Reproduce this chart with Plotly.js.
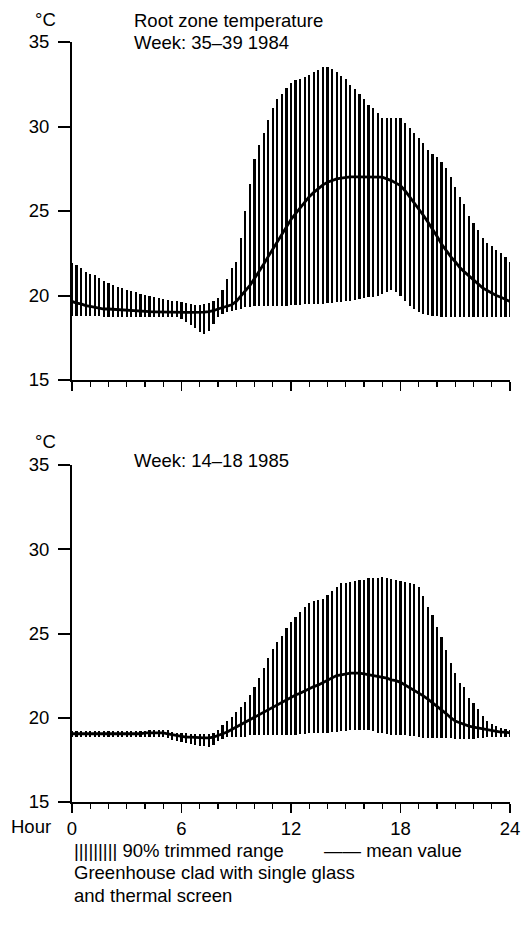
<!DOCTYPE html>
<html>
<head>
<meta charset="utf-8">
<script src="https://cdn.plot.ly/plotly-3.0.1.min.js"></script>
<style>html,body{margin:0;padding:0;background:#fff;}#chart{width:531px;height:932px;}</style>
</head>
<body>
<div id="chart"></div>
<script>
// Hours of day, 15-minute steps
const hours = [0,0.25,0.5,0.75,1,1.25,1.5,1.75,2,2.25,2.5,2.75,3,3.25,3.5,3.75,4,4.25,4.5,4.75,5,5.25,5.5,5.75,6,6.25,6.5,6.75,7,7.25,7.5,7.75,8,8.25,8.5,8.75,9,9.25,9.5,9.75,10,10.25,10.5,10.75,11,11.25,11.5,11.75,12,12.25,12.5,12.75,13,13.25,13.5,13.75,14,14.25,14.5,14.75,15,15.25,15.5,15.75,16,16.25,16.5,16.75,17,17.25,17.5,17.75,18,18.25,18.5,18.75,19,19.25,19.5,19.75,20,20.25,20.5,20.75,21,21.25,21.5,21.75,22,22.25,22.5,22.75,23,23.25,23.5,23.75,24];

// Week 35-39 1984: 90% trimmed range (upper / lower) and mean
const upper1984 = [21.9,21.8,21.65,21.4,21.3,21.2,21.05,20.85,20.75,20.6,20.5,20.45,20.35,20.25,20.2,20.1,20.05,20.0,19.9,19.85,19.8,19.75,19.7,19.65,19.6,19.55,19.5,19.45,19.45,19.5,19.55,19.65,19.85,20.3,21.0,21.6,22.0,23.4,25.0,26.6,28.1,28.9,29.6,30.4,31.1,31.6,31.9,32.3,32.6,32.75,32.8,32.9,33.05,33.2,33.35,33.5,33.55,33.4,33.2,33.0,32.8,32.45,32.2,31.9,31.6,31.3,31.1,30.8,30.5,30.5,30.5,30.5,30.5,30.2,29.9,29.6,29.3,29.0,28.6,28.4,28.2,27.9,27.55,27.0,26.4,25.8,25.4,24.7,24.3,23.9,23.4,23.1,22.9,22.7,22.5,22.3,22.0];
const lower1984 = [18.8,18.8,18.8,18.8,18.8,18.8,18.8,18.75,18.75,18.75,18.75,18.75,18.75,18.75,18.75,18.75,18.75,18.75,18.75,18.7,18.7,18.7,18.7,18.7,18.6,18.45,18.25,18.05,17.85,17.7,17.9,18.3,18.7,18.9,19.0,19.1,19.15,19.2,19.3,19.3,19.35,19.35,19.35,19.4,19.4,19.4,19.4,19.4,19.45,19.45,19.45,19.5,19.5,19.5,19.5,19.5,19.55,19.55,19.6,19.6,19.65,19.7,19.75,19.8,19.85,19.9,19.9,20.0,20.1,20.2,20.3,20.2,20.0,19.7,19.4,19.2,19.0,18.9,18.85,18.8,18.8,18.75,18.75,18.75,18.7,18.7,18.7,18.7,18.7,18.7,18.7,18.7,18.7,18.7,18.7,18.7,18.7];
const mean1984 = [19.65,19.55,19.5,19.4,19.35,19.3,19.25,19.2,19.2,19.18,19.15,19.12,19.1,19.08,19.07,19.06,19.05,19.04,19.03,19.02,19.02,19.01,19.0,19.0,19.0,19.0,19.0,19.0,19.0,19.02,19.05,19.1,19.2,19.28,19.35,19.45,19.65,19.95,20.25,20.6,21.0,21.4,21.85,22.3,22.75,23.2,23.65,24.1,24.5,24.85,25.2,25.55,25.85,26.1,26.35,26.55,26.7,26.8,26.9,26.95,27.0,27.02,27.02,27.02,27.02,27.02,27.02,27.02,27.0,26.9,26.8,26.65,26.5,26.2,25.85,25.5,25.15,24.75,24.35,23.95,23.5,23.05,22.65,22.3,22.0,21.65,21.4,21.15,20.9,20.65,20.45,20.3,20.15,20.0,19.9,19.75,19.65];

// Week 14-18 1985
const upper1985 = [19.2,19.2,19.2,19.2,19.2,19.2,19.2,19.2,19.2,19.2,19.2,19.2,19.2,19.2,19.2,19.2,19.2,19.25,19.25,19.3,19.3,19.25,19.15,19.1,19.1,19.1,19.05,19.05,19.05,19.05,19.05,19.1,19.3,19.55,19.8,20.05,20.35,20.65,20.95,21.35,21.8,22.35,22.95,23.55,24.1,24.5,24.85,25.3,25.7,26.0,26.3,26.6,26.8,26.95,27.0,27.05,27.3,27.5,27.75,28.0,28.0,28.05,28.1,28.15,28.2,28.3,28.3,28.3,28.35,28.3,28.25,28.2,28.1,28.05,28.0,27.95,27.75,27.2,26.6,26.1,25.4,24.8,24.0,23.25,22.65,22.05,21.8,21.2,20.85,20.5,20.1,19.8,19.6,19.5,19.4,19.35,19.3];
const lower1985 = [18.85,18.85,18.85,18.85,18.85,18.85,18.85,18.85,18.85,18.85,18.85,18.85,18.85,18.85,18.85,18.85,18.85,18.85,18.85,18.85,18.85,18.8,18.7,18.6,18.55,18.5,18.45,18.4,18.35,18.3,18.25,18.4,18.6,18.75,18.85,18.85,18.85,18.85,18.85,18.95,18.95,18.95,19.0,19.0,19.0,19.0,19.0,19.0,19.0,19.0,19.05,19.05,19.1,19.1,19.1,19.1,19.1,19.15,19.15,19.2,19.2,19.25,19.3,19.3,19.3,19.25,19.2,19.1,19.1,19.05,19.0,18.95,18.95,18.95,18.9,18.9,18.85,18.8,18.8,18.8,18.8,18.8,18.8,18.8,18.75,18.75,18.75,18.75,18.75,18.8,18.8,18.85,18.85,18.85,18.85,18.85,18.85];
const mean1985 = [19.05,19.05,19.05,19.05,19.05,19.05,19.05,19.05,19.05,19.05,19.05,19.05,19.05,19.05,19.05,19.05,19.1,19.1,19.1,19.1,19.1,19.05,19.0,18.95,18.9,18.85,18.85,18.82,18.8,18.8,18.8,18.85,18.95,19.05,19.15,19.3,19.45,19.6,19.75,19.9,20.05,20.2,20.35,20.5,20.65,20.8,20.95,21.1,21.25,21.35,21.45,21.6,21.75,21.85,21.95,22.1,22.25,22.4,22.5,22.55,22.6,22.65,22.65,22.65,22.6,22.55,22.5,22.45,22.4,22.35,22.25,22.2,22.1,21.95,21.8,21.65,21.5,21.3,21.1,20.9,20.7,20.5,20.25,20.0,19.8,19.7,19.6,19.5,19.45,19.4,19.35,19.3,19.25,19.2,19.15,19.15,19.1];

const yTicks = [15,20,25,30,35];
const xTickLabels = ['0','6','12','18','24'];

const FONT = 'Liberation Sans, Arial, Helvetica, sans-serif';
const FS = 18.5;

function rangeTrace(lo, hi, xa, ya) {
  return {
    type: 'bar', x: hours, base: lo, y: hi.map((v, i) => v - lo[i]),
    width: 0.12, marker: {color: '#000', line: {width: 0}},
    xaxis: xa, yaxis: ya, hoverinfo: 'skip', showlegend: false
  };
}
function meanTrace(m, xa, ya) {
  return {
    type: 'scatter', mode: 'lines', x: hours, y: m,
    line: {color: '#000', width: 2.8}, xaxis: xa, yaxis: ya,
    hoverinfo: 'skip', showlegend: false
  };
}

const data = [
  rangeTrace(lower1984, upper1984, 'x', 'y'),
  meanTrace(mean1984, 'x', 'y'),
  rangeTrace(lower1985, upper1985, 'x2', 'y2'),
  meanTrace(mean1985, 'x2', 'y2')
];

function xAxis(domainAnchor, showLabels) {
  return {
    anchor: domainAnchor, domain: [0, 1], range: [0, 24],
    tickmode: 'array', tickvals: [0, 6, 12, 18, 24], ticktext: xTickLabels,
    ticks: 'outside', ticklen: 9, tickwidth: 1.6, tickcolor: '#000',
    minor: {tickmode: 'linear', tick0: 0, dtick: 1, ticks: 'outside', ticklen: 5, tickwidth: 1.4, tickcolor: '#000', showgrid: false},
    showticklabels: showLabels, showline: true, linewidth: 2, linecolor: '#000',
    showgrid: false, zeroline: false, fixedrange: true, ticklabelstandoff: 0,
    tickfont: {family: FONT, size: FS, color: '#000'}
  };
}
function yAxis(anchor, domain) {
  return {
    anchor: anchor, domain: domain, range: [15, 35],
    tickmode: 'array', tickvals: yTicks,
    ticks: 'outside', ticklen: 12, tickwidth: 2, tickcolor: '#000',
    showline: true, linewidth: 2, linecolor: '#000',
    showgrid: false, zeroline: false, fixedrange: true, ticklabelstandoff: 5,
    tickfont: {family: FONT, size: FS, color: '#000'}
  };
}

const W0 = 72, W1 = 510, H0 = 42, H1 = 802;
const px = x => (x - W0) / (W1 - W0);
const py = y => (H1 - y) / (H1 - H0);

function ann(text, x, y, xanchor) {
  return {text: text, xref: 'paper', yref: 'paper', x: px(x), y: py(y),
    xanchor: xanchor || 'left', yanchor: 'middle', showarrow: false,
    font: {family: FONT, size: FS, color: '#000'}};
}

const layout = {
  width: 531, height: 932,
  margin: {l: W0, r: 531 - W1, t: H0, b: 932 - H1},
  paper_bgcolor: '#fff', plot_bgcolor: '#fff',
  showlegend: false, bargap: 0,
  xaxis: xAxis('y', false),
  yaxis: yAxis('x', [py(380), 1]),
  xaxis2: xAxis('y2', true),
  yaxis2: yAxis('x2', [0, py(465)]),
  annotations: [
    ann('°C', 45, 19, 'center'),
    ann('Root zone temperature', 132, 20),
    ann('Week: 35–39 1984', 132, 42),
    ann('°C', 45, 441, 'center'),
    ann('Week: 14–18 1985', 132, 460),
    ann('Hour', 31, 826, 'center'),
    ann('||||||||| 90% trimmed range', 72, 851),
    ann('—— mean value', 322, 851),
    ann('Greenhouse clad with single glass', 72, 873),
    ann('and thermal screen', 72, 895)
  ]
};

Plotly.newPlot('chart', data, layout, {displayModeBar: false, staticPlot: true});
</script>
</body>
</html>
